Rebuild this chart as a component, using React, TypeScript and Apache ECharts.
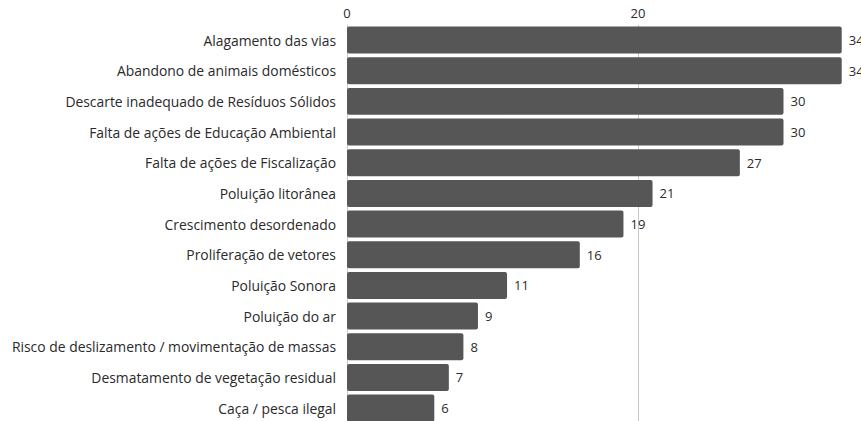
import React, { useEffect, useRef } from "react";
import * as echarts from "echarts";

const categories = [
  "Alagamento das vias",
  "Abandono de animais domésticos",
  "Descarte inadequado de Resíduos Sólidos",
  "Falta de ações de Educação Ambiental",
  "Falta de ações de Fiscalização",
  "Poluição litorânea",
  "Crescimento desordenado",
  "Proliferação de vetores",
  "Poluição Sonora",
  "Poluição do ar",
  "Risco de deslizamento / movimentação de massas",
  "Desmatamento de vegetação residual",
  "Caça / pesca ilegal",
];
const values = [34, 34, 30, 30, 27, 21, 19, 16, 11, 9, 8, 7, 6];

export default function App() {
  const ref = useRef<HTMLDivElement>(null);
  useEffect(() => {
    if (!ref.current) return;
    const chart = echarts.init(ref.current, undefined, { renderer: "svg" });
    chart.setOption({
      animation: false,
      textStyle: { fontFamily: "Open Sans" },
      grid: { left: 347, top: 24.7, width: 582, height: 398.7, containLabel: false },
      xAxis: {
        type: "value",
        position: "top",
        min: 0,
        max: 40,
        interval: 20,
        axisLine: { show: false },
        axisTick: { show: false },
        axisLabel: {
          color: "#2a2a2a",
          fontSize: 13,
          margin: 5,
          fontFamily: "Open Sans",
          showMaxLabel: false,
        },
        splitLine: { show: true, lineStyle: { color: "#c8c8c8", width: 1 } },
      },
      yAxis: {
        type: "category",
        data: categories,
        inverse: true,
        axisLine: { show: false },
        axisTick: { show: false },
        axisLabel: { color: "#2a2a2a", fontSize: 13.9, margin: 11, fontFamily: "Open Sans" },
      },
      series: [
        {
          type: "bar",
          data: values,
          barCategoryGap: "12%",
          itemStyle: { color: "#565656", borderRadius: 2 },
          label: {
            show: true,
            position: "right",
            distance: 7,
            color: "#2a2a2a",
            fontSize: 13,
            fontFamily: "Open Sans",
          },
        },
      ],
    });
    return () => chart.dispose();
  }, []);
  return (
    <div
      style={{
        position: "fixed",
        left: 0,
        top: 0,
        width: 861,
        height: 421,
        overflow: "hidden",
        background: "#fff",
      }}
    >
      <div ref={ref} style={{ width: 1000, height: 440 }} />
    </div>
  );
}
